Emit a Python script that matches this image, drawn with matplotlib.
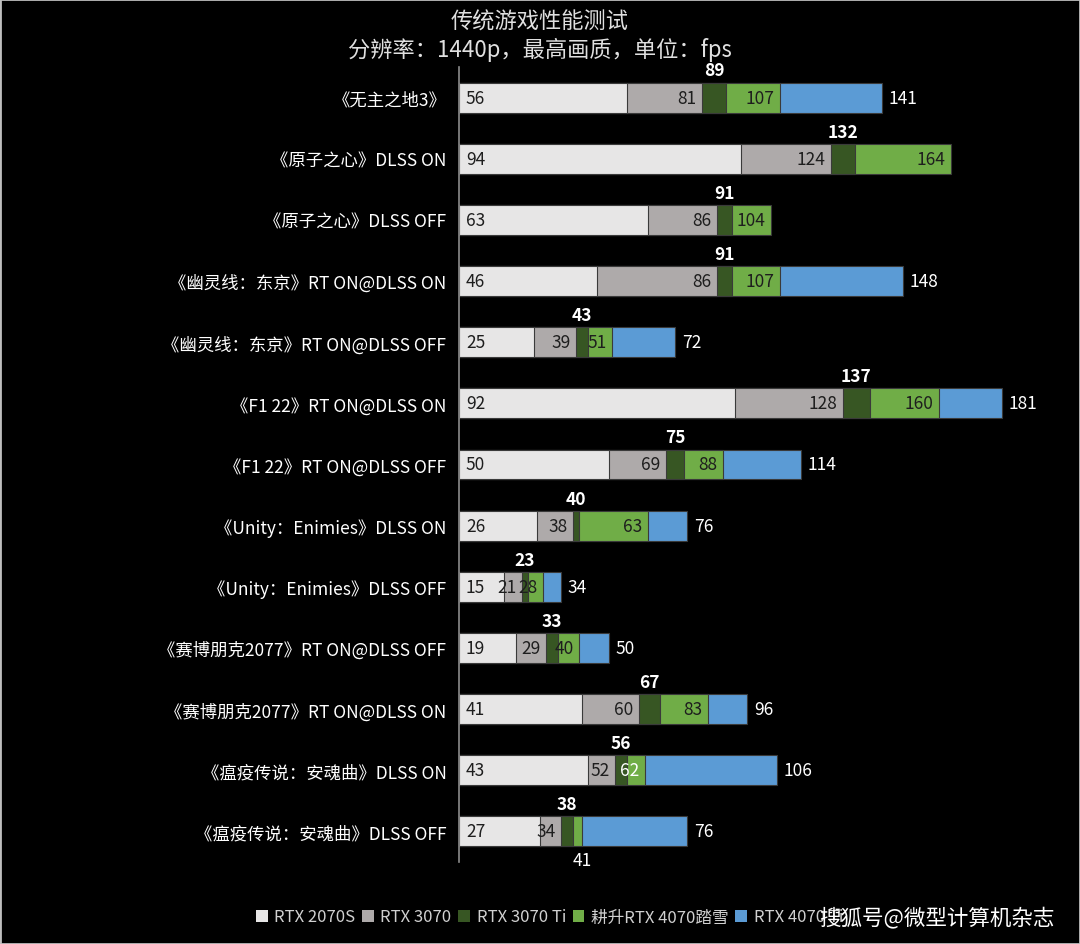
import numpy as np
import matplotlib
matplotlib.use("Agg")
import matplotlib.pyplot as plt
from matplotlib.patches import Patch, Rectangle

plt.rcParams['font.family'] = ['Noto Sans CJK SC', 'DejaVu Sans']

categories = [
    "《无主之地3》",
    "《原子之心》DLSS ON",
    "《原子之心》DLSS OFF",
    "《幽灵线：东京》RT ON@DLSS ON",
    "《幽灵线：东京》RT ON@DLSS OFF",
    "《F1 22》RT ON@DLSS ON",
    "《F1 22》RT ON@DLSS OFF",
    "《Unity：Enimies》DLSS ON",
    "《Unity：Enimies》DLSS OFF",
    "《赛博朋克2077》RT ON@DLSS OFF",
    "《赛博朋克2077》RT ON@DLSS ON",
    "《瘟疫传说：安魂曲》DLSS ON",
    "《瘟疫传说：安魂曲》DLSS OFF",
]
series_names = ["RTX 2070S", "RTX 3070", "RTX 3070 Ti", "耕升RTX 4070踏雪", "RTX 4070 Ti"]
rtx2070s = [56, 94, 63, 46, 25, 92, 50, 26, 15, 19, 41, 43, 27]
rtx3070 = [81, 124, 86, 86, 39, 128, 69, 38, 21, 29, 60, 52, 34]
rtx3070ti = [89, 132, 91, 91, 43, 137, 75, 40, 23, 33, 67, 56, 38]
rtx4070 = [107, 164, 104, 107, 51, 160, 88, 63, 28, 40, 83, 62, 41]
rtx4070ti = [141, np.nan, np.nan, 148, 72, 181, 114, 76, 34, 50, 96, 106, 76]

colors = ["#E7E6E6", "#AEAAAA", "#375623", "#70AD47", "#5B9BD5"]

fig = plt.figure(figsize=(10.8, 9.45), dpi=100, facecolor="black")
ax = fig.add_axes([459/1080, 1-863/945, 600/1080, (863-68)/945])
ax.set_facecolor("black")

y = np.arange(len(categories))
h = 0.49
all_series = [rtx2070s, rtx3070, rtx3070ti, rtx4070, rtx4070ti]
# draw largest behind
for k in range(4, -1, -1):
    vals = np.array(all_series[k], dtype=float)
    ax.barh(y, np.nan_to_num(vals), height=h, color=colors[k],
            edgecolor="#3A3A3A", linewidth=0.8, zorder=2 + (4 - k))

dark = "#1E1E1E"
fs = 12.5
for i in range(len(categories)):
    # RTX 2070S: inside base
    ax.annotate(f"{rtx2070s[i]}", xy=(0, i), xytext=(5, 0), textcoords="offset points",
                ha="left", va="center", color=dark, fontsize=fs, zorder=10)
    # RTX 3070: inside end
    ax.annotate(f"{rtx3070[i]}", xy=(rtx3070[i], i), xytext=(-4, 0), textcoords="offset points",
                ha="right", va="center", color=dark, fontsize=fs, zorder=10)
    # RTX 3070 Ti: bold above
    xc = (rtx3070[i] + rtx3070ti[i]) / 2
    ax.annotate(f"{rtx3070ti[i]}", xy=(xc, i), xytext=(0, 19.5), textcoords="offset points",
                ha="center", va="center", color="white", fontsize=fs, fontweight="bold", zorder=10)
    # 4070
    if i == len(categories) - 1:
        ax.annotate(f"{rtx4070[i]}", xy=(rtx4070[i], i), xytext=(0, -20.5), textcoords="offset points",
                    ha="center", va="center", color="white", fontsize=fs, zorder=10)
    else:
        col = "white" if i == 11 else dark
        ax.annotate(f"{rtx4070[i]}", xy=(rtx4070[i], i), xytext=(-4, 0), textcoords="offset points",
                    ha="right", va="center", color=col, fontsize=fs, zorder=10)
    # 4070 Ti: outside end
    if not np.isnan(rtx4070ti[i]):
        ax.annotate(f"{int(rtx4070ti[i])}", xy=(rtx4070ti[i], i), xytext=(5, 0), textcoords="offset points",
                    ha="left", va="center", color="white", fontsize=fs, zorder=10)

ax.set_xlim(0, 200)
ax.set_ylim(12.5, -0.5)
ax.set_yticks(y)
ax.set_yticklabels(categories, color="white", fontsize=12.5)
ax.tick_params(axis="y", length=0, pad=9)
ax.set_xticks([])
for s in ["top", "right", "bottom"]:
    ax.spines[s].set_visible(False)
ax.spines["left"].set_color("#8C8C8C")
ax.spines["left"].set_linewidth(1.2)
ax.spines["left"].set_zorder(20)

fig.text(0.5, 1-22/945, "传统游戏性能测试", ha="center", va="center", color="#E0E0E0", fontsize=16)
fig.text(0.5, 1-50/945, "分辨率：1440p，最高画质，单位：fps", ha="center", va="center", color="#E0E0E0", fontsize=16)

handles = [Patch(facecolor=c, edgecolor="none") for c in colors]
leg = fig.legend(handles, series_names, loc="center left", bbox_to_anchor=(256/1080, 1-918/945), ncol=5,
                 frameon=False, handlelength=0.7, handleheight=0.7, handletextpad=0.4,
                 columnspacing=0.4, fontsize=12, labelcolor="#D0D0D0", borderpad=0, borderaxespad=0)
leg.set_zorder(5)

fig.text(1055/1080, 1-918/945, "搜狐号@微型计算机杂志", ha="right", va="center", color="white",
         fontsize=15.5, fontweight="medium", zorder=20)

fig.patches.append(Rectangle((0, 0), 1, 1, transform=fig.transFigure, fill=False,
                             edgecolor="#BFBFBF", linewidth=2, zorder=30))

fig.savefig("out.png", dpi=100, facecolor="black")
